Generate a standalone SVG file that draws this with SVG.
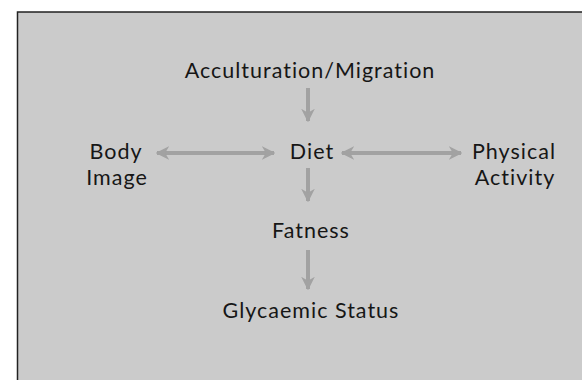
<svg xmlns="http://www.w3.org/2000/svg" width="582" height="380" viewBox="0 0 582 380">
<style>
text{font-family:Lato,"Open Sans","DejaVu Sans",sans-serif;font-size:21.5px;fill:#161616;text-anchor:middle;letter-spacing:1px}
.c{stroke:#a2a2a2;stroke-width:4;fill:none}
</style>
<defs>
<marker id="ah" viewBox="0 0 10 10" refX="9" refY="5" markerWidth="3.4" markerHeight="3.4" orient="auto-start-reverse" markerUnits="strokeWidth">
<path d="M0,0 L10,5 L0,10 L3,5 Z" fill="#a2a2a2"/>
</marker>
</defs>
<rect width="582" height="380" fill="#ffffff"/>
<rect x="17.5" y="12" width="570" height="372" fill="#cbcbcb" stroke="#222" stroke-width="1.5"/>
<g id="connectors">
<line class="c" x1="308" y1="88" x2="308" y2="121" marker-end="url(#ah)"/>
<line class="c" x1="157" y1="153" x2="274" y2="153" marker-start="url(#ah)" marker-end="url(#ah)"/>
<line class="c" x1="342" y1="153" x2="461" y2="153" marker-start="url(#ah)" marker-end="url(#ah)"/>
<line class="c" x1="308" y1="168" x2="308" y2="201" marker-end="url(#ah)"/>
<line class="c" x1="308" y1="250" x2="308" y2="289" marker-end="url(#ah)"/>
</g>
<g id="acculturation"><text x="310" y="78">Acculturation/Migration</text></g>
<g id="diet"><text x="312" y="159">Diet</text></g>
<g id="bodyimage"><text x="116" y="159">Body</text><text x="117" y="185">Image</text></g>
<g id="physical"><text x="514" y="159">Physical</text><text x="515" y="185">Activity</text></g>
<g id="fatness"><text x="311" y="238">Fatness</text></g>
<g id="glycaemic"><text x="311" y="318">Glycaemic Status</text></g>
</svg>
